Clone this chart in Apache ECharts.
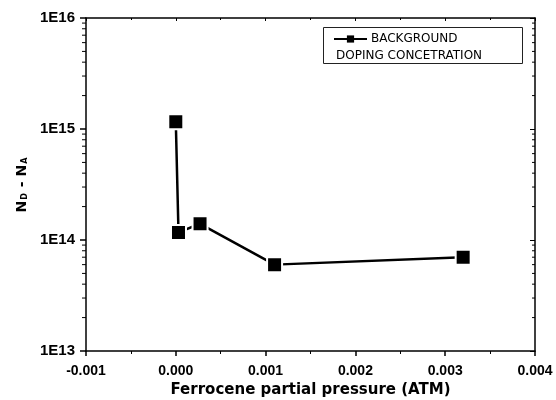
<!DOCTYPE html>
<html>
<head>
<meta charset="utf-8">
<script src="https://cdn.jsdelivr.net/npm/echarts@6/dist/echarts.min.js"></script>
<style>html,body{margin:0;padding:0;background:#fff;}#c{width:556px;height:400px;}</style>
</head>
<body>
<div id="c"></div>
<script>
// Data
const pressureAtm = [0.0000, 0.00003, 0.00027, 0.0011, 0.0032];
const dopingConc = [1.16e15, 1.17e14, 1.40e14, 6.0e13, 7.0e13];
const seriesName = 'BACKGROUND DOPING CONCETRATION';
const legendLine1 = 'BACKGROUND';
const legendLine2 = 'DOPING CONCETRATION';
const xTitle = 'Ferrocene partial pressure (ATM)';
const xMin = -0.001, xMax = 0.004, xStep = 0.001;
const yMin = 1e13, yMax = 1e16;
// minor log tick positions (2..9 within each decade)
const yMinorTicks = [];
for (let d = 13; d < 16; d++) for (let k = 2; k <= 9; k++) yMinorTicks.push(k * Math.pow(10, d));

const chart = echarts.init(document.getElementById('c'), null, {renderer: 'canvas'});
const tickFont = 'Liberation Sans';
const axisLineStyle = {color: '#000', width: 1.5};

const option = {
  backgroundColor: '#fff',
  animation: false,
  grid: {left: 86, right: 21, top: 18, bottom: 49, containLabel: false, outerBoundsMode: 'none'},
  legend: {
    show: true,
    left: 333, top: 33,
    padding: 0,
    itemWidth: 33, itemHeight: 9, itemGap: 0,
    formatter: () => legendLine1,
    textStyle: {fontFamily: 'DejaVu Sans', fontSize: 12, color: '#000', padding: [0,0,0,-1]},
    data: [{name: seriesName, itemStyle: {borderWidth: 0, color: '#000'}}]
  },
  graphic: [
    {type: 'rect', shape: {x: 323.5, y: 27.5, width: 199, height: 36}, style: {fill: 'none', stroke: '#222', lineWidth: 1}, silent: true},
    {type: 'text', x: 336, y: 56, style: {text: legendLine2, fontFamily: 'DejaVu Sans', fontSize: 12, fill: '#000', verticalAlign: 'middle'}, silent: true}
  ],
  xAxis: [
    {
      type: 'value', min: xMin, max: xMax, interval: xStep, position: 'bottom',
      name: xTitle, nameLocation: 'middle', nameGap: 31,
      nameTextStyle: {fontFamily: 'DejaVu Sans', fontWeight: 'bold', fontSize: 15, color: '#000'},
      axisLine: {show: true, onZero: false, lineStyle: axisLineStyle},
      axisTick: {show: true, inside: false, length: 5, lineStyle: {color: '#000', width: 1.5}},
      minorTick: {show: true, splitNumber: 2, length: 3, lineStyle: {color: '#000', width: 1}},
      axisLabel: {margin: 13, fontFamily: tickFont, fontWeight: 'bold', fontSize: 14, color: '#000',
        formatter: v => (Math.round(v / xStep) * xStep).toFixed(3).replace('-0.000', '0.000')},
      splitLine: {show: false}
    },
    {
      type: 'value', min: xMin, max: xMax, interval: xStep, position: 'top',
      axisLine: {show: true, onZero: false, lineStyle: axisLineStyle},
      axisTick: {show: true, inside: true, length: 3, lineStyle: {color: '#000', width: 1}},
      minorTick: {show: true, splitNumber: 2, length: 2, lineStyle: {color: '#000', width: 1}},
      axisLabel: {show: false},
      splitLine: {show: false}
    }
  ],
  yAxis: [
    {
      type: 'log', logBase: 10, min: yMin, max: yMax, position: 'left',
      name: '{n|N}{s|D}{n| - N}{s|A}', nameLocation: 'middle', nameGap: 56, nameRotate: 90,
      nameTextStyle: {
        rich: {
          n: {fontFamily: 'DejaVu Sans', fontWeight: 'bold', fontSize: 14, color: '#000'},
          s: {fontFamily: 'DejaVu Sans', fontWeight: 'bold', fontSize: 8, color: '#000', verticalAlign: 'bottom', padding: [6, 1, 0, 1]}
        }
      },
      axisLine: {show: true, onZero: false, lineStyle: axisLineStyle},
      axisTick: {show: true, inside: false, length: 6, lineStyle: {color: '#000', width: 1.5}},
      axisLabel: {margin: 11, fontFamily: tickFont, fontWeight: 'bold', fontSize: 15, color: '#000',
        formatter: v => '1E' + Math.round(Math.log10(v))},
      splitLine: {show: false}
    },
    {
      type: 'log', logBase: 10, min: yMin, max: yMax, position: 'right',
      axisLine: {show: true, onZero: false, lineStyle: axisLineStyle},
      axisTick: {show: true, inside: true, length: 5, lineStyle: {color: '#000', width: 1}},
      axisLabel: {show: false},
      splitLine: {show: false}
    }
  ],
  series: [
    {
      name: seriesName,
      type: 'line',
      xAxisIndex: 0, yAxisIndex: 0,
      data: pressureAtm.map((x, i) => [x, dopingConc[i]]),
      symbol: 'rect', symbolSize: 15,
      lineStyle: {color: '#000', width: 2.5},
      itemStyle: {color: '#000', borderColor: '#fff', borderWidth: 2},
      z: 3
    },
    {
      name: 'yMinor',
      type: 'custom',
      xAxisIndex: 0, yAxisIndex: 0,
      clip: false, silent: true,
      data: yMinorTicks.map(v => [xMin, v]),
      renderItem: (params, api) => {
        const v = api.value(1);
        const pl = api.coord([xMin, v]);
        const pr = api.coord([xMax, v]);
        return {type: 'group', children: [
          {type: 'line', shape: {x1: pl[0] - 4, y1: pl[1], x2: pl[0], y2: pl[1]}, style: {stroke: '#000', lineWidth: 1}},
          {type: 'line', shape: {x1: pr[0] - 3, y1: pr[1], x2: pr[0], y2: pr[1]}, style: {stroke: '#000', lineWidth: 1}}
        ]};
      },
      z: 1
    }
  ]
};
chart.setOption(option);
</script>
</body>
</html>
